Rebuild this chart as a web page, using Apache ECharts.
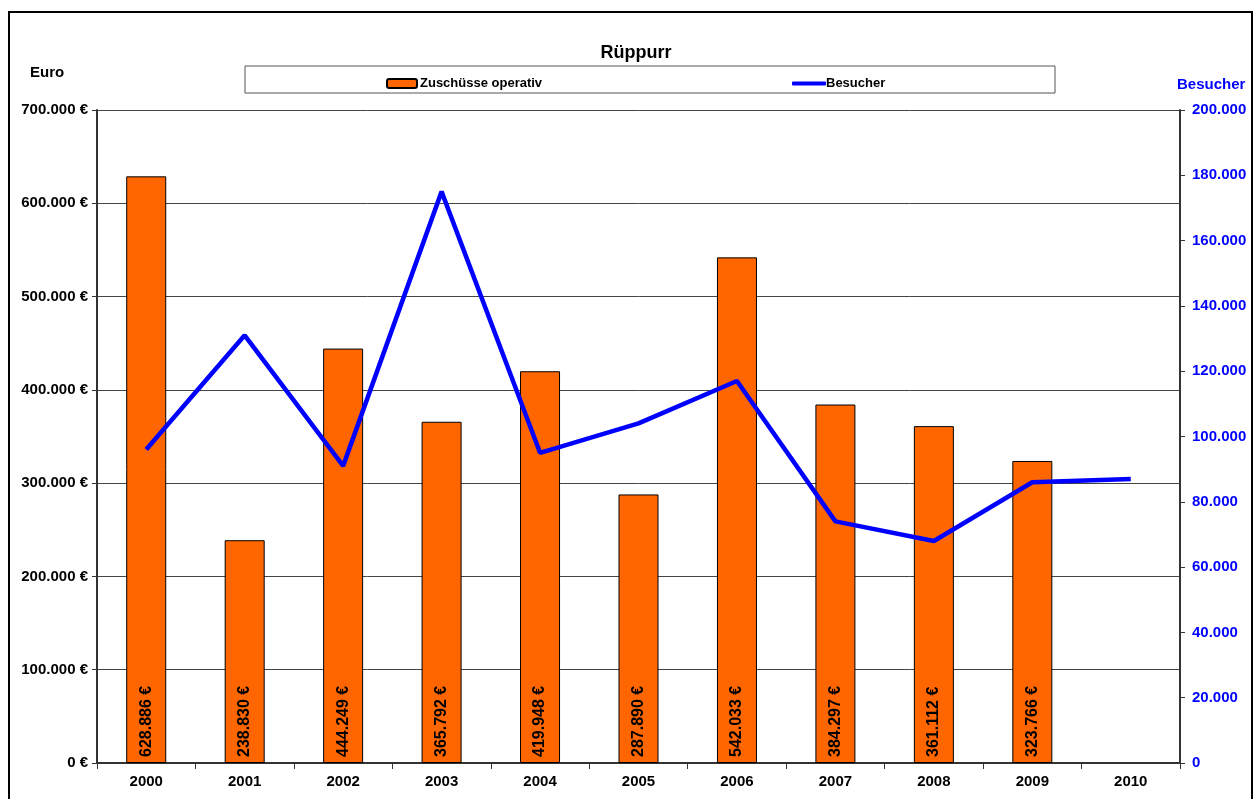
<!DOCTYPE html>
<html>
<head>
<meta charset="utf-8">
<script src="https://cdn.jsdelivr.net/npm/echarts@6/dist/echarts.min.js"></script>
<style>
  html, body { margin: 0; padding: 0; background: #fff; }
  #chart { width: 1258px; height: 799px; }
</style>
</head>
<body>
<div id="chart"></div>
<script>
const years = ['2000', '2001', '2002', '2003', '2004', '2005', '2006', '2007', '2008', '2009', '2010'];
const zuschuesse = [628886, 238830, 444249, 365792, 419948, 287890, 542033, 384297, 361112, 323766, null];
const besucher = [96000, 131000, 91000, 175000, 95000, 104000, 117000, 74000, 68000, 86000, 87000];

const font = 'Liberation Sans, Arial, sans-serif';

function fmt(v) {
  return String(Math.round(v)).replace(/\B(?=(\d{3})+(?!\d))/g, '.');
}

const chart = echarts.init(document.getElementById('chart'));

const option = {
  animation: false,
  textStyle: { fontFamily: font },
  title: {
    text: 'Rüppurr',
    left: 631,
    top: 39,
    textAlign: 'center',
    textStyle: { fontSize: 18, fontWeight: 'bold', color: '#000', fontFamily: font }
  },
  graphic: [
    {
      type: 'rect',
      shape: { x: 9, y: 12, width: 1243, height: 800 },
      style: { fill: 'none', stroke: '#000', lineWidth: 2 },
      silent: true
    },
    {
      type: 'rect',
      shape: { x: 245, y: 66, width: 810, height: 27 },
      style: { fill: '#fff', stroke: '#555', lineWidth: 1 },
      z: -1,
      silent: true
    },
    {
      type: 'text',
      left: 30, top: 65,
      style: { text: 'Euro', font: 'bold 15px ' + font, fill: '#000' }
    },
    {
      type: 'text',
      left: 1177, top: 77,
      style: { text: 'Besucher', font: 'bold 15px ' + font, fill: '#0000ff' }
    }
  ],
  legend: [
    {
      data: ['Zuschüsse operativ'],
      left: 381, top: 72,
      itemWidth: 30, itemHeight: 9, itemGap: 4,
      textStyle: { fontSize: 13, fontWeight: 'bold', color: '#000', fontFamily: font, padding: [0, 0, 0, -2] }
    },
    {
      data: [{ name: 'Besucher', icon: 'roundRect' }],
      left: 787, top: 72,
      itemWidth: 34, itemHeight: 4,
      itemStyle: { color: '#0000ff' },
      textStyle: { fontSize: 13, fontWeight: 'bold', color: '#000', fontFamily: font, padding: [0, 0, 0, -5] }
    }
  ],
  grid: { left: 97, right: 78, top: 110, bottom: 36, containLabel: false },
  xAxis: {
    type: 'category',
    data: years,
    axisLine: { lineStyle: { color: '#333', width: 2 } },
    axisTick: { show: true, alignWithLabel: false, length: 6, lineStyle: { color: '#333' } },
    axisLabel: { fontSize: 15, fontWeight: 'bold', color: '#000', margin: 11 }
  },
  yAxis: [
    {
      type: 'value',
      min: 0, max: 700000, interval: 100000,
      axisLine: { show: true, lineStyle: { color: '#333', width: 2 } },
      axisTick: { show: true, length: 5, lineStyle: { color: '#333' } },
      axisLabel: {
        fontSize: 15, fontWeight: 'bold', color: '#000', margin: 9,
        formatter: v => fmt(v) + ' €'
      },
      splitLine: { show: true, lineStyle: { color: '#444', width: 1 } }
    },
    {
      type: 'value',
      min: 0, max: 200000, interval: 20000,
      position: 'right',
      axisLine: { show: true, lineStyle: { color: '#333', width: 2 } },
      axisTick: { show: true, length: 5, lineStyle: { color: '#333' } },
      axisLabel: {
        fontSize: 15, fontWeight: 'bold', color: '#0000ff', margin: 12,
        formatter: v => fmt(v)
      },
      splitLine: { show: false }
    }
  ],
  series: [
    {
      name: 'Zuschüsse operativ',
      type: 'bar',
      data: zuschuesse,
      barWidth: 40,
      itemStyle: { color: '#ff6600', borderColor: '#000', borderWidth: 1 },
      label: {
        show: true,
        position: 'insideBottom',
        rotate: 90,
        align: 'left',
        verticalAlign: 'middle',
        distance: 6,
        fontSize: 16,
        fontWeight: 'bold',
        color: '#000',
        fontFamily: font,
        formatter: p => fmt(p.value) + ' €'
      }
    },
    {
      name: 'Besucher',
      type: 'line',
      yAxisIndex: 1,
      data: besucher,
      symbol: 'none',
      lineStyle: { color: '#0000ff', width: 4.5 },
      itemStyle: { color: '#0000ff' },
      z: 5
    }
  ]
};

chart.setOption(option);
</script>
</body>
</html>
